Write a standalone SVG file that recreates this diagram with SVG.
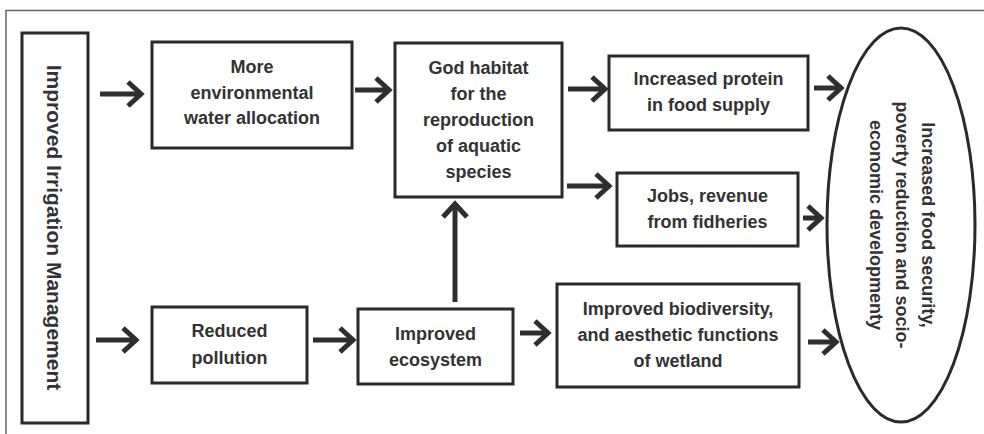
<svg xmlns="http://www.w3.org/2000/svg" width="984" height="434" viewBox="0 0 984 434">
<style>
.box{fill:#fff;stroke:#2a2a2a;stroke-width:3}
.t{font-family:"Liberation Sans",Arial,sans-serif;font-weight:bold;font-size:18px;fill:#333;text-anchor:middle}
.conn line{stroke:#2e2e2e;stroke-width:5;marker-end:url(#arr)}
.frame{stroke:#666;stroke-width:1.5;fill:none}
</style>
<defs>
<marker id="arr" markerUnits="userSpaceOnUse" orient="auto" overflow="visible" refX="0" refY="0" markerWidth="20" markerHeight="30">
<path d="M-14,-12 L-1,0 L-14,12" fill="none" stroke="#2e2e2e" stroke-width="5"/>
</marker>
</defs>
<rect width="984" height="434" fill="#fff"/>
<path class="frame" d="M6,434 V10.5 H984"/>

<g id="irrigation">
<rect class="box" x="22" y="33" width="66" height="390"/>
<text class="t" style="font-size:21px" transform="translate(47,227.5) rotate(90)">Improved Irrigation Management</text>
</g>
<g id="water">
<rect class="box" x="152" y="42" width="200" height="106"/>
<text class="t" x="252" y="72.5">More</text>
<text class="t" x="252" y="98.5">environmental</text>
<text class="t" x="252" y="124">water allocation</text>
</g>
<g id="habitat">
<rect class="box" x="395" y="43" width="167" height="154"/>
<text class="t" x="478.5" y="74">God habitat</text>
<text class="t" x="478.5" y="100">for the</text>
<text class="t" x="478.5" y="126">reproduction</text>
<text class="t" x="478.5" y="152">of aquatic</text>
<text class="t" x="478.5" y="178">species</text>
</g>
<g id="protein">
<rect class="box" x="609" y="56" width="199" height="74"/>
<text class="t" x="708.5" y="85">Increased protein</text>
<text class="t" x="708.5" y="111">in food supply</text>
</g>
<g id="jobs">
<rect class="box" x="617" y="173" width="181" height="73"/>
<text class="t" x="707.5" y="202">Jobs, revenue</text>
<text class="t" x="707.5" y="228">from fidheries</text>
</g>
<g id="pollution">
<rect class="box" x="152" y="307" width="155" height="76"/>
<text class="t" x="229.5" y="337">Reduced</text>
<text class="t" x="229.5" y="363.5">pollution</text>
</g>
<g id="ecosystem">
<rect class="box" x="358" y="309" width="155" height="75"/>
<text class="t" x="435.5" y="340">Improved</text>
<text class="t" x="435.5" y="366">ecosystem</text>
</g>
<g id="biodiversity">
<rect class="box" x="557" y="284" width="242" height="103"/>
<text class="t" x="678" y="315">Improved biodiversity,</text>
<text class="t" x="678" y="341">and aesthetic functions</text>
<text class="t" x="678" y="367">of wetland</text>
</g>
<g id="outcome">
<ellipse cx="901" cy="225" rx="74" ry="197" fill="#fff" stroke="#2a2a2a" stroke-width="3"/>
<g transform="translate(922,225) rotate(90)">
<text class="t" x="0" y="0">Increased food security,</text>
<text class="t" x="0" y="26">poverty reduction and socio-</text>
<text class="t" x="0" y="52">economic developmenty</text>
</g>
</g>

<g id="connectors" class="conn">
<line x1="100" y1="94" x2="142" y2="94"/>
<line x1="355" y1="90" x2="390" y2="90"/>
<line x1="568" y1="89" x2="606" y2="89"/>
<line x1="567" y1="186" x2="610" y2="186"/>
<line x1="96" y1="340" x2="137" y2="340"/>
<line x1="313" y1="340" x2="354" y2="340"/>
<line x1="520" y1="333" x2="549" y2="333"/>
<line x1="455" y1="302" x2="455" y2="203"/>
<line x1="814" y1="88" x2="842" y2="88"/>
<line x1="803" y1="218" x2="822" y2="218"/>
<line x1="808" y1="342" x2="837" y2="342"/>
</g>
</svg>
